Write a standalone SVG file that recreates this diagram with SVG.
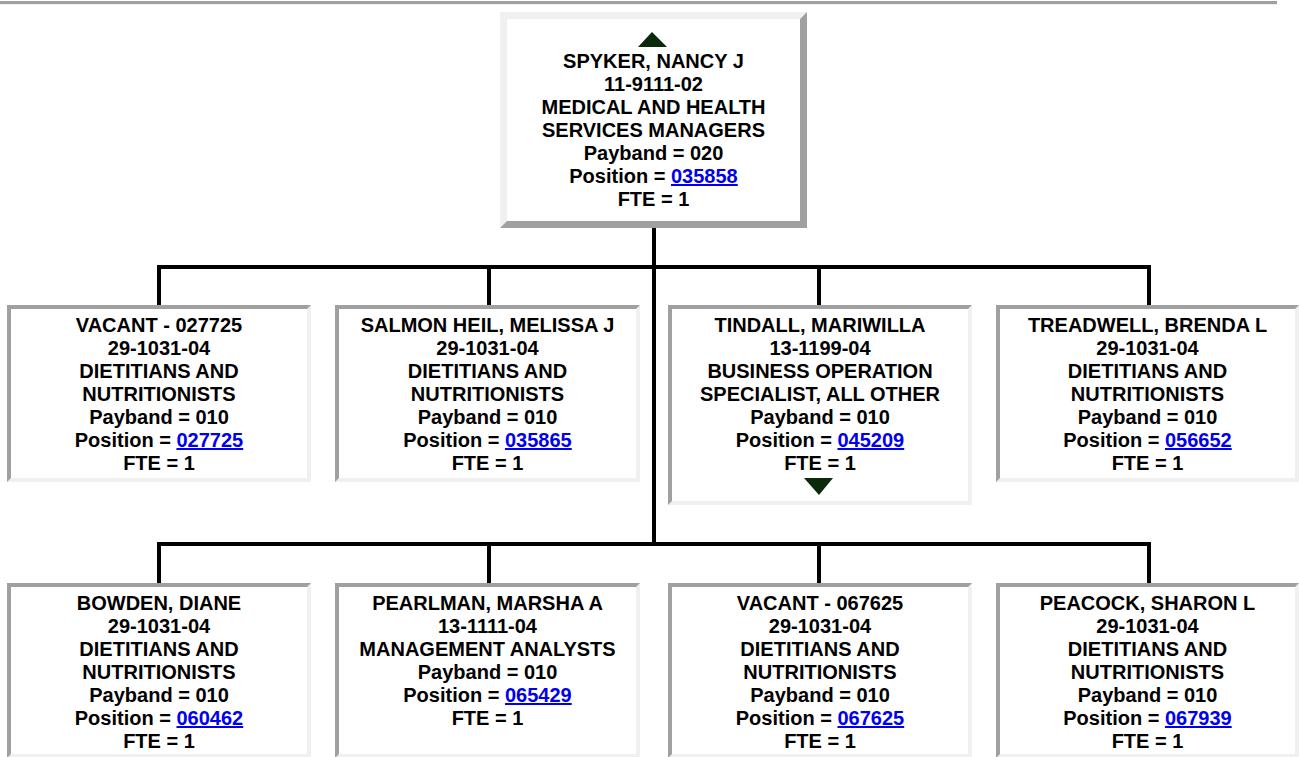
<svg xmlns="http://www.w3.org/2000/svg" width="1299" height="757" viewBox="0 0 1299 757">
<style>
.dk{fill:#a0a0a0}
.lt{fill:#f0f0f0}
.in{fill:#ffffff}
.t{font-family:"Liberation Sans",Arial,sans-serif;font-weight:bold;font-size:20px;fill:#000;text-anchor:middle}
.lk{fill:#0000ee;text-decoration:underline}
.cn{stroke:#000;stroke-width:4;fill:none}
.tri{fill:#0b290b}
</style>
<rect width="1299" height="757" fill="#ffffff"/>
<rect x="0" y="1" width="1277" height="3" fill="#a0a0a0"/>
<rect x="0" y="4" width="1278" height="1" fill="#f0f0f0"/>

<g id="connectors" class="cn">
<line x1="654" y1="226" x2="654" y2="546"/>
<line x1="157" y1="267" x2="1151" y2="267"/>
<line x1="159" y1="267" x2="159" y2="306"/>
<line x1="489" y1="267" x2="489" y2="306"/>
<line x1="819" y1="267" x2="819" y2="306"/>
<line x1="1149" y1="267" x2="1149" y2="306"/>
<line x1="157" y1="544" x2="1151" y2="544"/>
<line x1="159" y1="544" x2="159" y2="584"/>
<line x1="489" y1="544" x2="489" y2="584"/>
<line x1="819" y1="544" x2="819" y2="584"/>
<line x1="1149" y1="544" x2="1149" y2="584"/>
</g>

<g id="n0">
<rect class="lt" x="500" y="12" width="307" height="216"/>
<polygon class="dk" points="807,12 807,228 500,228 507,221 800,221 800,19"/>
<rect class="in" x="507" y="19" width="293" height="202"/>
<polygon class="tri" points="652,32 638,47 667,47"/>
<text class="t"><tspan x="653.5" y="68">SPYKER, NANCY J</tspan><tspan x="653.5" y="91">11-9111-02</tspan><tspan x="653.5" y="114">MEDICAL AND HEALTH</tspan><tspan x="653.5" y="137">SERVICES MANAGERS</tspan><tspan x="653.5" y="160">Payband = 020</tspan><tspan x="653.5" y="183">Position = <tspan class="lk">035858</tspan></tspan><tspan x="653.5" y="206">FTE = 1</tspan></text>
</g>

<g id="n1">
<rect class="dk" x="7" y="305" width="304" height="177"/>
<polygon class="lt" points="311,305 311,482 7,482 11,478 307,478 307,309"/>
<rect class="in" x="11" y="309" width="296" height="169"/>
<text class="t"><tspan x="159" y="332">VACANT - 027725</tspan><tspan x="159" y="355">29-1031-04</tspan><tspan x="159" y="378">DIETITIANS AND</tspan><tspan x="159" y="401">NUTRITIONISTS</tspan><tspan x="159" y="424">Payband = 010</tspan><tspan x="159" y="447">Position = <tspan class="lk">027725</tspan></tspan><tspan x="159" y="470">FTE = 1</tspan></text>
</g>

<g id="n2">
<rect class="dk" x="335" y="305" width="305" height="177"/>
<polygon class="lt" points="640,305 640,482 335,482 339,478 636,478 636,309"/>
<rect class="in" x="339" y="309" width="297" height="169"/>
<text class="t"><tspan x="487.5" y="332">SALMON HEIL, MELISSA J</tspan><tspan x="487.5" y="355">29-1031-04</tspan><tspan x="487.5" y="378">DIETITIANS AND</tspan><tspan x="487.5" y="401">NUTRITIONISTS</tspan><tspan x="487.5" y="424">Payband = 010</tspan><tspan x="487.5" y="447">Position = <tspan class="lk">035865</tspan></tspan><tspan x="487.5" y="470">FTE = 1</tspan></text>
</g>

<g id="n3">
<rect class="dk" x="668" y="305" width="304" height="200"/>
<polygon class="lt" points="972,305 972,505 668,505 672,501 968,501 968,309"/>
<rect class="in" x="672" y="309" width="296" height="192"/>
<text class="t"><tspan x="820" y="332">TINDALL, MARIWILLA</tspan><tspan x="820" y="355">13-1199-04</tspan><tspan x="820" y="378">BUSINESS OPERATION</tspan><tspan x="820" y="401">SPECIALIST, ALL OTHER</tspan><tspan x="820" y="424">Payband = 010</tspan><tspan x="820" y="447">Position = <tspan class="lk">045209</tspan></tspan><tspan x="820" y="470">FTE = 1</tspan></text>
<polygon class="tri" points="804,478 833,478 819,495"/>
</g>

<g id="n4">
<rect class="dk" x="996" y="305" width="303" height="177"/>
<polygon class="lt" points="1299,305 1299,482 996,482 1000,478 1295,478 1295,309"/>
<rect class="in" x="1000" y="309" width="295" height="169"/>
<text class="t"><tspan x="1147.5" y="332">TREADWELL, BRENDA L</tspan><tspan x="1147.5" y="355">29-1031-04</tspan><tspan x="1147.5" y="378">DIETITIANS AND</tspan><tspan x="1147.5" y="401">NUTRITIONISTS</tspan><tspan x="1147.5" y="424">Payband = 010</tspan><tspan x="1147.5" y="447">Position = <tspan class="lk">056652</tspan></tspan><tspan x="1147.5" y="470">FTE = 1</tspan></text>
</g>

<g id="n5">
<rect class="dk" x="7" y="583" width="304" height="175"/>
<polygon class="lt" points="311,583 311,758 7,758 11,754 307,754 307,587"/>
<rect class="in" x="11" y="587" width="296" height="167"/>
<text class="t"><tspan x="159" y="610">BOWDEN, DIANE</tspan><tspan x="159" y="633">29-1031-04</tspan><tspan x="159" y="656">DIETITIANS AND</tspan><tspan x="159" y="679">NUTRITIONISTS</tspan><tspan x="159" y="702">Payband = 010</tspan><tspan x="159" y="725">Position = <tspan class="lk">060462</tspan></tspan><tspan x="159" y="748">FTE = 1</tspan></text>
</g>

<g id="n6">
<rect class="dk" x="335" y="583" width="305" height="175"/>
<polygon class="lt" points="640,583 640,758 335,758 339,754 636,754 636,587"/>
<rect class="in" x="339" y="587" width="297" height="167"/>
<text class="t"><tspan x="487.5" y="610">PEARLMAN, MARSHA A</tspan><tspan x="487.5" y="633">13-1111-04</tspan><tspan x="487.5" y="656">MANAGEMENT ANALYSTS</tspan><tspan x="487.5" y="679">Payband = 010</tspan><tspan x="487.5" y="702">Position = <tspan class="lk">065429</tspan></tspan><tspan x="487.5" y="725">FTE = 1</tspan></text>
</g>

<g id="n7">
<rect class="dk" x="668" y="583" width="304" height="175"/>
<polygon class="lt" points="972,583 972,758 668,758 672,754 968,754 968,587"/>
<rect class="in" x="672" y="587" width="296" height="167"/>
<text class="t"><tspan x="820" y="610">VACANT - 067625</tspan><tspan x="820" y="633">29-1031-04</tspan><tspan x="820" y="656">DIETITIANS AND</tspan><tspan x="820" y="679">NUTRITIONISTS</tspan><tspan x="820" y="702">Payband = 010</tspan><tspan x="820" y="725">Position = <tspan class="lk">067625</tspan></tspan><tspan x="820" y="748">FTE = 1</tspan></text>
</g>

<g id="n8">
<rect class="dk" x="996" y="583" width="303" height="175"/>
<polygon class="lt" points="1299,583 1299,758 996,758 1000,754 1295,754 1295,587"/>
<rect class="in" x="1000" y="587" width="295" height="167"/>
<text class="t"><tspan x="1147.5" y="610">PEACOCK, SHARON L</tspan><tspan x="1147.5" y="633">29-1031-04</tspan><tspan x="1147.5" y="656">DIETITIANS AND</tspan><tspan x="1147.5" y="679">NUTRITIONISTS</tspan><tspan x="1147.5" y="702">Payband = 010</tspan><tspan x="1147.5" y="725">Position = <tspan class="lk">067939</tspan></tspan><tspan x="1147.5" y="748">FTE = 1</tspan></text>
</g>
</svg>
